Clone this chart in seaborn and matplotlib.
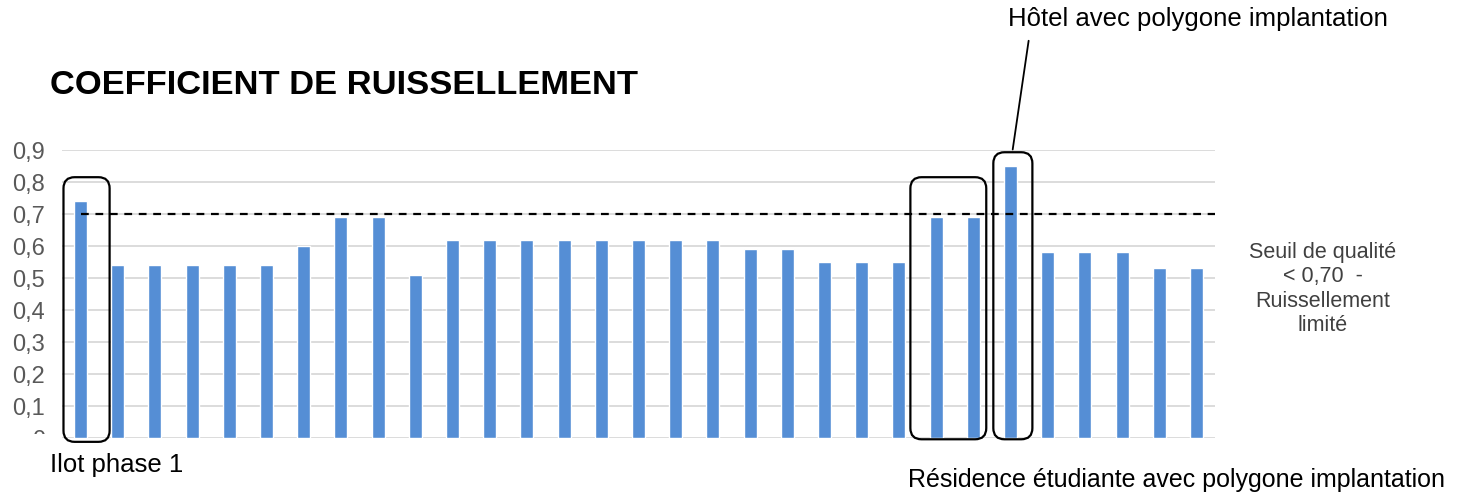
import numpy as np
import pandas as pd
import matplotlib
matplotlib.use('Agg')
import matplotlib.pyplot as plt
import seaborn as sns
from matplotlib.patches import FancyBboxPatch
from matplotlib.transforms import Bbox

ilots = [str(i) for i in range(1, 32)]
coef = [0.74, 0.54, 0.54, 0.54, 0.54, 0.54, 0.60, 0.69, 0.69, 0.51,
        0.62, 0.62, 0.62, 0.62, 0.62, 0.62, 0.62, 0.62, 0.59, 0.59,
        0.55, 0.55, 0.55, 0.69, 0.69, 0.85, 0.58, 0.58, 0.58, 0.53, 0.53]
seuil = 0.70
yticks = [0, 0.1, 0.2, 0.3, 0.4, 0.5, 0.6, 0.7, 0.8, 0.9]
ytick_labels = ['0', '0,1', '0,2', '0,3', '0,4', '0,5', '0,6', '0,7', '0,8', '0,9']

df = pd.DataFrame({'ilot': ilots, 'coef': coef})

sns.set_style('white')
plt.rcParams['font.family'] = ['Liberation Sans', 'DejaVu Sans']

W, H = 1478, 494
fig = plt.figure(figsize=(W / 100, H / 100), dpi=100)
ax = fig.add_axes([62 / W, (H - 438) / H, (1215 - 62) / W, (438 - 150) / H])

sns.barplot(data=df, x='ilot', y='coef', order=ilots, color='#558ED5',
            saturation=1, width=0.35, ax=ax)

ax.set_xlim(-0.5, len(ilots) - 0.5)
ax.set_ylim(0, 0.9)
ax.set_yticks(yticks)
ax.set_yticklabels(ytick_labels, fontsize=17, color='#595959')
ax.set_xticks([])
ax.set_xlabel('')
ax.set_ylabel('')
ax.tick_params(axis='y', length=0, pad=12)
ax.yaxis.grid(True, color='#d9d9d9', linewidth=1.3)
ax.set_axisbelow(True)
for s in ax.spines.values():
    s.set_visible(False)

# the "0" label is cut off at the bottom in the original
clip = Bbox.from_extents(0, (H - 434) / H * fig.bbox.height, 60, fig.bbox.height)
for lab in ax.get_yticklabels():
    if lab.get_text() == '0':
        lab.set_clip_box(clip)
        lab.set_clip_on(True)

# threshold line
ax.plot([0, len(ilots) - 0.5], [seuil, seuil], color='black', lw=1.6,
        ls=(0, (3.5, 3)), zorder=3)

# rounded boxes around highlighted bars
def rbox(x0, x1, y0, y1):
    p = FancyBboxPatch((x0, y0), x1 - x0, y1 - y0,
                       boxstyle='round,pad=0,rounding_size=0.3',
                       mutation_aspect=0.9 / 288 * 37.2,
                       fill=False, ec='black', lw=1.6, zorder=4, clip_on=False)
    ax.add_patch(p)

rbox(-0.46, 0.78, -0.012, 0.815)
rbox(22.31, 24.35, -0.004, 0.815)
rbox(24.54, 25.59, -0.004, 0.893)

ax.annotate('', xy=(25.05, 0.893), xytext=(25.5, 1.25),
            arrowprops=dict(arrowstyle='-', color='black', lw=1.3),
            annotation_clip=False)

fig.text(50 / W, 1 - 86 / H, 'COEFFICIENT DE RUISSELLEMENT', fontsize=24.8,
         fontweight='bold', ha='left', va='center', color='black')
fig.text(1198 / W, 1 - 19 / H, 'Hôtel avec polygone implantation', fontsize=18.5,
         ha='center', va='center', color='black')
fig.text(1176 / W, 1 - 480 / H, 'Résidence étudiante avec polygone implantation',
         fontsize=18, ha='center', va='center', color='black')
fig.text(50 / W, 1 - 465 / H, 'Ilot phase 1', fontsize=18.5,
         ha='left', va='center', color='black')
fig.text(1323 / W, 1 - 289 / H, 'Seuil de qualité\n< 0,70  -\nRuissellement\nlimité',
         fontsize=15.5, ha='center', va='center', color='#404040', linespacing=1.2)

fig.savefig('out.png', dpi=100)
